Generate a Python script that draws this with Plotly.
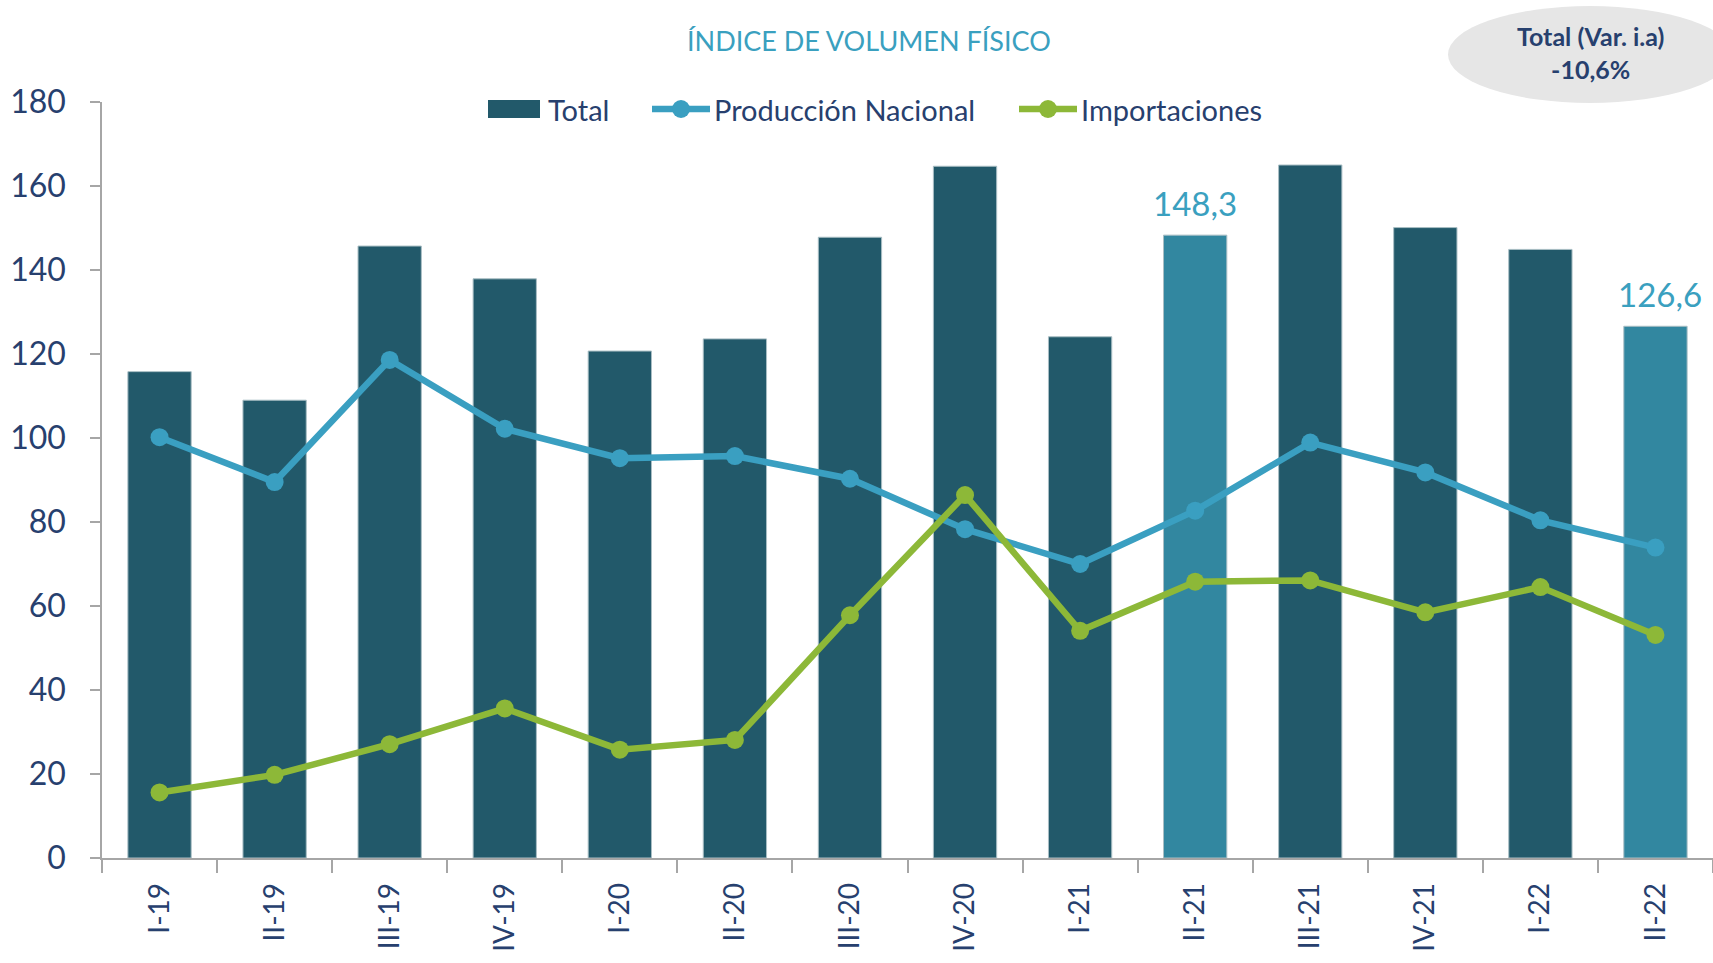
import plotly.graph_objects as go

categories = ["I-19", "II-19", "III-19", "IV-19", "I-20", "II-20", "III-20", "IV-20",
              "I-21", "II-21", "III-21", "IV-21", "I-22", "II-22"]
total = [115.8, 109.0, 145.7, 137.9, 120.7, 123.6, 147.8, 164.7,
         124.1, 148.3, 165.0, 150.1, 144.9, 126.6]
produccion = [100.2, 89.5, 118.6, 102.2, 95.2, 95.7, 90.3, 78.3,
              70.0, 82.7, 98.9, 91.8, 80.4, 73.9]
importaciones = [15.6, 19.8, 27.1, 35.6, 25.8, 28.1, 57.8, 86.4,
                 54.1, 65.8, 66.1, 58.5, 64.5, 53.1]
highlighted = ["II-21", "II-22"]
series_names = ["Total", "Producción Nacional", "Importaciones"]
title_text = "ÍNDICE DE VOLUMEN FÍSICO"
badge_lines = ["Total (Var. i.a)", "-10,6%"]

DARK = "#22596A"
LIGHT = "#3287A0"
BLUE = "#3A9FC1"
GREEN = "#8DB838"
NAVY = "#27406E"
TEAL_TXT = "#3AA0BF"
FONT = "Lato"

W, H = 1713, 963
L, R, T, B = 102, 0, 102, 105
pw, ph = W - L - R, H - T - B

def px_x(x):
    return (x - L) / pw

def px_y(y):
    return (H - B - y) / ph

bar_colors = [LIGHT if c in highlighted else DARK for c in categories]

fig = go.Figure()
fig.add_trace(go.Bar(
    x=categories, y=total, name=series_names[0],
    marker=dict(color=bar_colors, line=dict(color="#A9BEC4", width=1)),
    showlegend=False,
))
fig.add_trace(go.Scatter(
    x=categories, y=produccion, name=series_names[1], mode="lines+markers",
    line=dict(color=BLUE, width=6.5), marker=dict(color=BLUE, size=18),
    showlegend=False,
))
fig.add_trace(go.Scatter(
    x=categories, y=importaciones, name=series_names[2], mode="lines+markers",
    line=dict(color=GREEN, width=6.5), marker=dict(color=GREEN, size=18),
    showlegend=False,
))

for c, v in zip(categories, total):
    if c in highlighted:
        fig.add_annotation(
            x=c, y=v, text=f"{v:.1f}".replace(".", ","), showarrow=False,
            yanchor="bottom", yshift=10, xshift=5 if c == categories[-1] else 0,
            font=dict(family=FONT, size=33, color=TEAL_TXT),
        )

# title
fig.add_annotation(
    xref="paper", yref="paper", x=px_x(869), y=px_y(41), text=title_text,
    showarrow=False, xanchor="center", yanchor="middle",
    font=dict(family=FONT, size=27, color=TEAL_TXT),
)

# manual legend
leg_y = 109
fig.add_shape(type="rect", xref="paper", yref="paper",
              x0=px_x(488), x1=px_x(540), y0=px_y(118), y1=px_y(100),
              fillcolor=DARK, line=dict(width=0))
for (x0, x1, color) in [(652, 710, BLUE), (1019, 1077, GREEN)]:
    fig.add_shape(type="line", xref="paper", yref="paper",
                  x0=px_x(x0), x1=px_x(x1), y0=px_y(leg_y), y1=px_y(leg_y),
                  line=dict(color=color, width=6.5))
    cx = (x0 + x1) / 2
    fig.add_shape(type="circle", xref="paper", yref="paper",
                  x0=px_x(cx - 9), x1=px_x(cx + 9), y0=px_y(leg_y + 9), y1=px_y(leg_y - 9),
                  fillcolor=color, line=dict(width=0))
for name, tx in zip(series_names, [546, 712, 1079]):
    fig.add_annotation(
        xref="paper", yref="paper", x=px_x(tx), y=px_y(leg_y), text=name,
        showarrow=False, xanchor="left", yanchor="middle",
        font=dict(family=FONT, size=29, color=NAVY),
    )

# badge
fig.add_shape(
    type="circle", xref="paper", yref="paper",
    x0=px_x(1448), x1=px_x(1732), y0=px_y(103), y1=px_y(6),
    fillcolor="#E6E6E6", line=dict(width=0), layer="below",
)
fig.add_annotation(
    xref="paper", yref="paper", x=px_x(1590), y=px_y(53),
    text="<br>".join(badge_lines), showarrow=False, xanchor="center", yanchor="middle",
    font=dict(family=FONT, size=25, color=NAVY, weight="bold"),
)

fig.update_layout(
    width=W, height=H, autosize=False,
    margin=dict(l=L, r=R, t=T, b=B, pad=0, autoexpand=False),
    plot_bgcolor="white", paper_bgcolor="white",
    bargap=0.45,
    showlegend=False,
    font=dict(family=FONT, color=NAVY),
)

fig.update_yaxes(
    range=[0, 180], dtick=20, showgrid=False, zeroline=False,
    showline=True, linecolor="#A6A6A6", linewidth=1.5,
    ticks="outside", ticklen=10, tickcolor="#A6A6A6", tickwidth=1.5,
    ticklabelstandoff=18, automargin=False,
    tickfont=dict(family=FONT, size=32, color=NAVY),
)
fig.update_xaxes(
    range=[-0.5, len(categories) - 0.5],
    showgrid=False, showline=True, linecolor="#A6A6A6", linewidth=1.5,
    ticks="outside", ticklen=13, tickcolor="#A6A6A6", tickwidth=1.5,
    tickson="boundaries", tickangle=-90, automargin=False,
    ticklabelstandoff=12,
    tickfont=dict(family=FONT, size=28, color=NAVY),
)

fig.write_html("out.html", config={"displayModeBar": False},
               post_script="document.body.style.margin='0';document.body.style.overflow='hidden';")
